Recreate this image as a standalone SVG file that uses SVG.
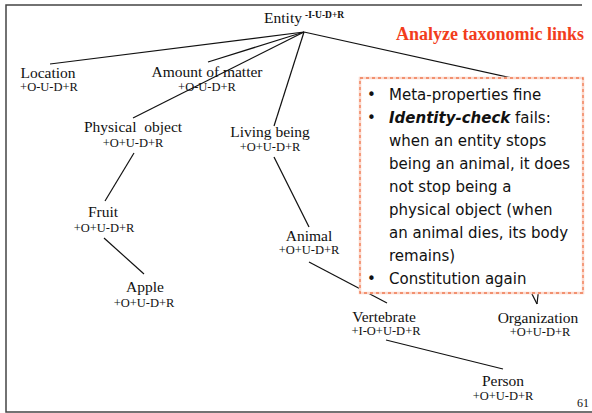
<svg xmlns="http://www.w3.org/2000/svg" width="592" height="413" viewBox="0 0 592 413">
  <style>
    .name { font-family: "Liberation Serif", "Times New Roman", serif; font-size: 15.5px; fill: #111; text-anchor: middle; white-space: pre; }
    .code { font-family: "Liberation Serif", "Times New Roman", serif; font-size: 12.5px; fill: #111; text-anchor: middle; }
    .sup { font-family: "Liberation Serif", "Times New Roman", serif; font-size: 9.5px; font-weight: bold; fill: #111; }
    .edge { stroke: #111; stroke-width: 1.2; fill: none; }
    .frame { stroke: #444; stroke-width: 1.5; fill: none; }
    .title { font-family: "Liberation Serif", "Times New Roman", serif; font-size: 18px; font-weight: bold; fill: #f23d1c; text-anchor: end; }
    .note { font-family: "Comic Sans MS", "DejaVu Sans", sans-serif; font-size: 15px; fill: #111; }
    .pg { font-family: "Liberation Serif", "Times New Roman", serif; font-size: 12px; fill: #111; }
  </style>

  <rect width="592" height="413" fill="#ffffff"/>

  <!-- slide frame -->
  <polyline class="frame" points="582,5 6,5 6,412 592,412"/>

  <!-- connectors -->
  <g id="connectors">
    <line class="edge" x1="304" y1="32" x2="50" y2="64"/>
    <line class="edge" x1="304" y1="32" x2="208" y2="62"/>
    <line class="edge" x1="304" y1="32" x2="133" y2="118"/>
    <line class="edge" x1="304" y1="32" x2="274" y2="126"/>
    <line class="edge" x1="304" y1="32" x2="530" y2="82"/>
    <line class="edge" x1="134" y1="153" x2="105" y2="201"/>
    <line class="edge" x1="104" y1="238" x2="144" y2="274"/>
    <line class="edge" x1="274" y1="157" x2="309" y2="227"/>
    <line class="edge" x1="309" y1="262" x2="387" y2="303"/>
    <line class="edge" x1="386" y1="340" x2="503" y2="369"/>
    <line class="edge" x1="528" y1="286" x2="537" y2="304"/>
    <line class="edge" x1="539" y1="286" x2="537" y2="304"/>
  </g>

  <!-- nodes -->
  <g id="entity">
    <text class="name" x="283" y="23">Entity</text>
    <text class="sup" x="305" y="18">-I-U-D+R</text>
  </g>
  <g id="location">
    <text class="name" x="48" y="78">Location</text>
    <text class="code" x="49" y="91">+O-U-D+R</text>
  </g>
  <g id="amount-of-matter">
    <text class="name" x="207" y="77">Amount of matter</text>
    <text class="code" x="207" y="91">+O-U-D+R</text>
  </g>
  <g id="physical-object">
    <text class="name" x="133" y="132">Physical  object</text>
    <text class="code" x="133" y="147">+O+U-D+R</text>
  </g>
  <g id="living-being">
    <text class="name" x="270" y="137">Living being</text>
    <text class="code" x="270" y="151">+O+U-D+R</text>
  </g>
  <g id="fruit">
    <text class="name" x="103" y="217">Fruit</text>
    <text class="code" x="104" y="232">+O+U-D+R</text>
  </g>
  <g id="apple">
    <text class="name" x="145" y="292">Apple</text>
    <text class="code" x="144" y="307">+O+U-D+R</text>
  </g>
  <g id="animal">
    <text class="name" x="309" y="241">Animal</text>
    <text class="code" x="309" y="254">+O+U-D+R</text>
  </g>
  <g id="vertebrate">
    <text class="name" x="384" y="322">Vertebrate</text>
    <text class="code" x="386" y="335">+I-O+U-D+R</text>
  </g>
  <g id="organization">
    <text class="name" x="538" y="323">Organization</text>
    <text class="code" x="540" y="336">+O+U-D+R</text>
  </g>
  <g id="person">
    <text class="name" x="503" y="386">Person</text>
    <text class="code" x="503" y="400">+O+U-D+R</text>
  </g>

  <!-- heading -->
  <text class="title" x="584" y="40">Analyze taxonomic links</text>

  <!-- callout -->
  <g id="callout">
    <rect x="360" y="78" width="223" height="215" fill="#ffffff" stroke="#fbd8cc" stroke-width="2.5"/>
    <rect x="360" y="78" width="223" height="215" fill="none" stroke="#f07a52" stroke-width="1.3" stroke-dasharray="3 3"/>
    <g class="note">
      <text x="367" y="100">•</text>
      <text x="389" y="100">Meta-properties fine</text>
      <text x="367" y="123">•</text>
      <text x="389" y="123"><tspan font-weight="bold" font-style="italic">Identity-check</tspan> fails:</text>
      <text x="389" y="146">when an entity stops</text>
      <text x="389" y="169">being an animal, it does</text>
      <text x="389" y="192">not stop being a</text>
      <text x="389" y="215">physical object (when</text>
      <text x="389" y="238">an animal dies, its body</text>
      <text x="389" y="261">remains)</text>
      <text x="367" y="284">•</text>
      <text x="389" y="284">Constitution again</text>
    </g>
  </g>

  <text class="pg" x="577" y="407">61</text>
</svg>
